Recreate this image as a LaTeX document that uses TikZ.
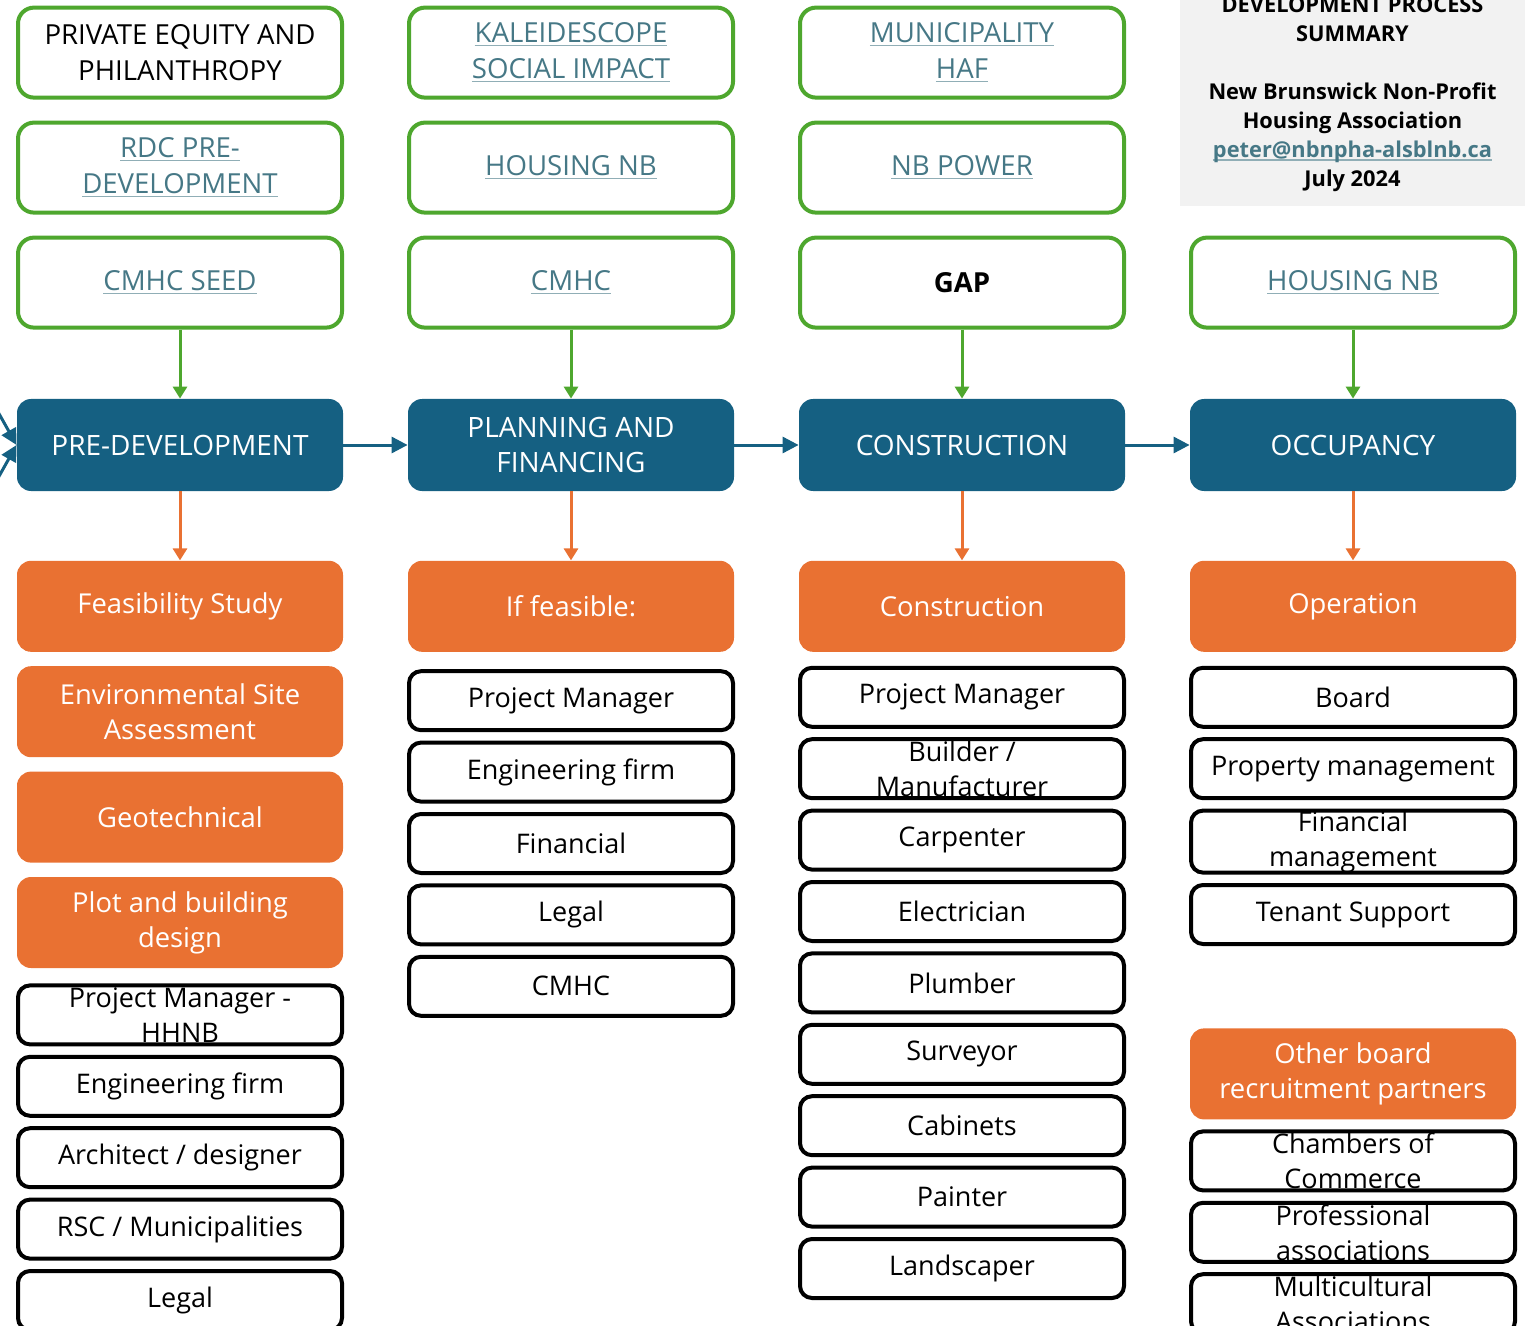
\documentclass[tikz,border=0pt]{standalone}
\usepackage{fontspec}
\setmainfont{Open Sans}
\usetikzlibrary{positioning,arrows.meta}
\definecolor{procblue}{HTML}{156082}
\definecolor{taskorange}{HTML}{E97132}
\definecolor{fundgreen}{HTML}{4EA72E}
\definecolor{linkteal}{HTML}{467886}
\definecolor{notegray}{HTML}{F2F2F2}
\newcommand{\lnk}[1]{\textcolor{linkteal}{\setbox0\hbox{#1}\rlap{\textcolor{linkteal!60}{\rule[-1.8pt]{\wd0}{0.7pt}}}\box0}}

\begin{document}
\begin{tikzpicture}[
fundbox/.style={draw=fundgreen, line width=2pt, rounded corners=8pt, fill=white, minimum width=162pt, minimum height=45pt, align=center, font=\fontsize{13.8}{18}\selectfont},
procbox/.style={fill=procblue, text=white, rounded corners=7pt, minimum width=163pt, minimum height=46pt, align=center, font=\fontsize{14}{17.5}\selectfont},
taskbox/.style={fill=taskorange, text=white, rounded corners=7pt, minimum width=163pt, minimum height=45.5pt, align=center, font=\fontsize{13.7}{17.5}\selectfont},
itembox/.style={draw=black, line width=2pt, rounded corners=6pt, minimum width=162pt, minimum height=29.5pt, inner ysep=0pt, align=center, font=\fontsize{13.5}{17.5}\selectfont},
notebox/.style={fill=notegray, minimum width=172.5pt, minimum height=112.5pt, align=center, font=\bfseries\fontsize{10.9}{14.5}\selectfont},
fundarrow/.style={-{Triangle[width=7pt,length=6pt]}, draw=fundgreen, line width=1.5pt},
taskarrow/.style={-{Triangle[width=7pt,length=6pt]}, draw=taskorange, line width=1.5pt},
flowarrow/.style={-{Triangle[width=8pt,length=8pt]}, draw=procblue, line width=1.5pt}
]
    \useasboundingbox (0,0) rectangle (762.5pt,-663pt);
    \clip (0,0) rectangle (762.5pt,-663pt);

    %Nodes
    \node[notebox]
        (note)  at (676.25pt,-47pt)     {DEVELOPMENT PROCESS\\SUMMARY\\[14.5pt]New Brunswick Non-Profit\\Housing Association\\\lnk{peter@nbnpha-alsblnb.ca}\\July 2024};

    \node[procbox]
        (pre)   at (90pt,-222.5pt)      {PRE-DEVELOPMENT};
    \node[procbox]
        (plan)  [right=32.1pt of pre]   {PLANNING AND\\FINANCING};
    \node[procbox]
        (cons)  [right=32.1pt of plan]  {CONSTRUCTION};
    \node[procbox]
        (occ)   [right=32.1pt of cons]  {OCCUPANCY};

    %Funding
    \node[fundbox]
        (seed)  [above=34.5pt of pre]   {\lnk{CMHC SEED}};
    \node[fundbox]
        (rdc)   [above=10.5pt of seed]  {\lnk{RDC PRE-}\\\lnk{DEVELOPMENT}};
    \node[fundbox]
        (pe)    [above=10.5pt of rdc]   {PRIVATE EQUITY AND\\PHILANTHROPY};
    \node[fundbox]
        (cmhc)  [above=34.5pt of plan]  {\lnk{CMHC}};
    \node[fundbox]
        (hnb)   [above=10.5pt of cmhc]  {\lnk{HOUSING NB}};
    \node[fundbox]
        (kal)   [above=10.5pt of hnb]   {\lnk{KALEIDESCOPE}\\\lnk{SOCIAL IMPACT}};
    \node[fundbox]
        (gap)   [above=34.5pt of cons]  {\textbf{GAP}};
    \node[fundbox]
        (power) [above=10.5pt of gap]   {\lnk{NB POWER}};
    \node[fundbox]
        (haf)   [above=10.5pt of power] {\lnk{MUNICIPALITY}\\\lnk{HAF}};
    \node[fundbox]
        (hnbo)  [above=34.5pt of occ]   {\lnk{HOUSING NB}};

    %Tasks
    \node[taskbox]
        (feas)  [below=34.5pt of pre]   {Feasibility Study};
    \node[taskbox]
        (esa)   [below=6.8pt of feas]   {Environmental Site\\Assessment};
    \node[taskbox]
        (geo)   [below=6.8pt of esa]    {Geotechnical};
    \node[taskbox]
        (plot)  [below=6.8pt of geo]    {Plot and building\\design};
    \node[taskbox]
        (iff)   [below=34.5pt of plan]  {If feasible:};
    \node[taskbox]
        (build) [below=34.5pt of cons]  {Construction};
    \node[taskbox]
        (oper)  [below=34.5pt of occ]   {Operation};

    %Partners
    \node[itembox]
        (a1)    [below=7.5pt of plot]   {Project Manager -\\HHNB};
    \node[itembox]
        (a2)    [below=4.2pt of a1]     {Engineering firm};
    \node[itembox]
        (a3)    [below=4.2pt of a2]     {Architect / designer};
    \node[itembox]
        (a4)    [below=4.2pt of a3]     {RSC / Municipalities};
    \node[itembox]
        (a5)    [below=4.2pt of a4]     {Legal};

    \node[itembox]
        (b1)    [below=8.5pt of iff]    {Project Manager};
    \node[itembox]
        (b2)    [below=4.2pt of b1]     {Engineering firm};
    \node[itembox]
        (b3)    [below=4.2pt of b2]     {Financial};
    \node[itembox]
        (b4)    [below=4.2pt of b3]     {Legal};
    \node[itembox]
        (b5)    [below=4.2pt of b4]     {CMHC};

    \node[itembox]
        (c1)    [below=6.8pt of build]  {Project Manager};
    \node[itembox]
        (c2)    [below=4.2pt of c1]     {Builder /\\Manufacturer};
    \node[itembox]
        (c3)    [below=4.2pt of c2]     {Carpenter};
    \node[itembox]
        (c4)    [below=4.2pt of c3]     {Electrician};
    \node[itembox]
        (c5)    [below=4.2pt of c4]     {Plumber};
    \node[itembox]
        (c6)    [below=4.2pt of c5]     {Surveyor};
    \node[itembox]
        (c7)    [below=4.2pt of c6]     {Cabinets};
    \node[itembox]
        (c8)    [below=4.2pt of c7]     {Painter};
    \node[itembox]
        (c9)    [below=4.2pt of c8]     {Landscaper};

    \node[itembox]
        (d1)    [below=6.8pt of oper]   {Board};
    \node[itembox]
        (d2)    [below=4.2pt of d1]     {Property management};
    \node[itembox]
        (d3)    [below=4.2pt of d2]     {Financial\\management};
    \node[itembox]
        (d4)    [below=4.2pt of d3]     {Tenant Support};
    \node[taskbox]
        (other) [below=41pt of d4]      {Other board\\recruitment partners};
    \node[itembox]
        (d5)    [below=4.8pt of other]  {Chambers of\\Commerce};
    \node[itembox]
        (d6)    [below=4.2pt of d5]     {Professional\\associations};
    \node[itembox]
        (d7)    [below=4.2pt of d6]     {Multicultural\\Associations};

    \coordinate (inA) at (-10pt,-190pt);
    \coordinate (inB) at (-10pt,-255pt);

    %Lines
    \draw[flowarrow] (inA) -- (pre.west);
    \draw[flowarrow] (inB) -- (pre.west);
    \draw[flowarrow] (pre) -- (plan);
    \draw[flowarrow] (plan) -- (cons);
    \draw[flowarrow] (cons) -- (occ);

    \draw[fundarrow] (seed) -- (pre);
    \draw[fundarrow] (cmhc) -- (plan);
    \draw[fundarrow] (gap) -- (cons);
    \draw[fundarrow] (hnbo) -- (occ);

    \draw[taskarrow] (pre) -- (feas);
    \draw[taskarrow] (plan) -- (iff);
    \draw[taskarrow] (cons) -- (build);
    \draw[taskarrow] (occ) -- (oper);
\end{tikzpicture}
\end{document}
